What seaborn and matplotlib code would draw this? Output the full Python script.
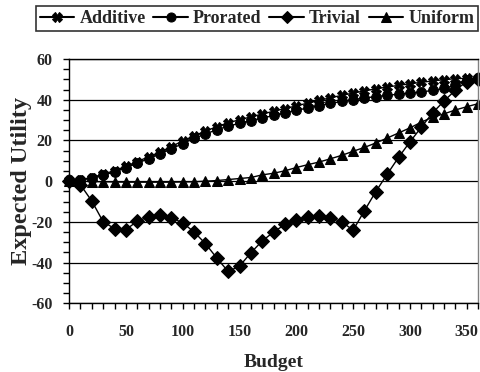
import numpy as np
import pandas as pd
import matplotlib
matplotlib.use("Agg")
import matplotlib.pyplot as plt
import seaborn as sns
from matplotlib.ticker import MultipleLocator

budget = list(range(0, 361, 10))
additive = [0.5, 0.8, 1.8, 3.4, 5.2, 7.3, 9.6, 12.0, 14.3, 17.0, 19.8, 22.3, 24.6, 26.8, 28.7,
            30.2, 31.6, 33.0, 34.4, 35.7, 37.0, 38.4, 39.7, 41.0, 42.2, 43.3, 44.4, 45.4, 46.3,
            47.1, 47.9, 48.6, 49.3, 49.9, 50.4, 50.6, 50.6]
prorated = [0.3, 0.5, 1.4, 2.9, 4.6, 6.6, 8.8, 11.1, 13.3, 15.9, 18.5, 21.0, 23.2, 25.3, 27.0,
            28.5, 29.8, 31.0, 32.3, 33.5, 34.8, 36.0, 37.1, 38.2, 39.2, 40.1, 40.9, 41.6, 42.2,
            42.8, 43.3, 43.9, 44.6, 45.6, 47.2, 49.8, 50.3]
trivial = [0.0, -1.8, -9.8, -20.0, -23.3, -23.8, -19.7, -17.5, -16.7, -18.0, -20.5, -25.0, -30.7,
           -37.8, -44.4, -41.8, -35.2, -29.4, -25.0, -21.3, -18.9, -17.5, -17.2, -17.9, -20.0,
           -24.1, -14.5, -5.1, 3.4, 11.7, 19.3, 26.5, 33.6, 39.4, 44.7, 49.0, 50.2]
uniform = [0.0, 0.0, -0.2, -0.3, -0.4, -0.5, -0.5, -0.5, -0.5, -0.5, -0.4, -0.3, 0.0, 0.3, 0.8,
           1.3, 1.8, 3.1, 3.9, 5.1, 6.7, 8.1, 9.4, 11.0, 12.7, 14.7, 16.6, 18.8, 21.2, 23.7,
           26.2, 29.0, 31.5, 33.1, 35.0, 36.6, 38.1]
series_names = ["Additive", "Prorated", "Trivial", "Uniform"]
x_ticks = [0, 50, 100, 150, 200, 250, 300, 350]
y_ticks = [-60, -40, -20, 0, 20, 40, 60]

df = pd.concat([
    pd.DataFrame({"Budget": budget, "Value": vals, "Series": name})
    for name, vals in zip(series_names, [additive, prorated, trivial, uniform])
], ignore_index=True)

sns.set_theme(style="white")
plt.rcParams["font.family"] = ["Liberation Serif", "DejaVu Serif"]
plt.rcParams["font.weight"] = "bold"
plt.rcParams["axes.unicode_minus"] = False

fig = plt.figure(figsize=(4.8, 3.72), dpi=100)
ax = fig.add_axes([0.144, 0.185, 0.852, 0.656])

markers = {"Additive": "X", "Prorated": "o", "Trivial": "D", "Uniform": "^"}
palette = {n: "black" for n in series_names}
sns.lineplot(data=df, x="Budget", y="Value", hue="Series", style="Series",
             markers=markers, dashes=False, palette=palette, ax=ax,
             linewidth=1.0, markersize=7, markeredgecolor="black", legend=True)
for ln in ax.lines:
    ln.set_clip_on(False)

handles, labels = ax.get_legend_handles_labels()
ax.get_legend().remove()

ax.set_xlim(0, 360)
ax.set_ylim(-60, 60)
ax.set_xticks(x_ticks)
ax.set_yticks(y_ticks)
ax.xaxis.set_minor_locator(MultipleLocator(10))
ax.yaxis.set_minor_locator(MultipleLocator(5))
ax.tick_params(axis="both", which="both", direction="out", length=4, width=1, color="black",
               bottom=True, left=True)
ax.tick_params(axis="x", which="major", pad=11, labelsize=11.5)
ax.tick_params(axis="y", which="major", pad=8, labelsize=11.5)
for lab in ax.get_xticklabels() + ax.get_yticklabels():
    lab.set_fontweight("bold")

ax.yaxis.grid(True, which="major", color="black", linewidth=0.9)
ax.xaxis.grid(False)
for s in ["left", "bottom", "top"]:
    ax.spines[s].set_color("black")
    ax.spines[s].set_linewidth(1.0)
ax.spines["right"].set_color("#808080")
ax.spines["right"].set_linewidth(1.0)

ax.set_xlabel("Budget", fontsize=14, fontweight="bold", labelpad=10)
ax.set_ylabel("Expected Utility", fontsize=17.5, fontweight="bold")
ax.yaxis.set_label_coords(-0.09, 0.5)

for h in handles:
    h.set_color("black")
    h.set_markersize(6.5)
    h.set_linewidth(1.5)
leg = fig.legend(handles, labels, loc="center", ncol=4, mode="expand",
                 bbox_to_anchor=(0.075, 0.914, 0.921, 0.073), frameon=True,
                 fancybox=False, handlelength=1.9, handletextpad=0.3, columnspacing=0.6,
                 borderaxespad=0.0, borderpad=0.2,
                 prop={"family": "Liberation Serif", "weight": "bold", "size": 13})
leg.get_frame().set_edgecolor("black")
leg.get_frame().set_linewidth(1.2)

fig.savefig("out.png", dpi=100)
